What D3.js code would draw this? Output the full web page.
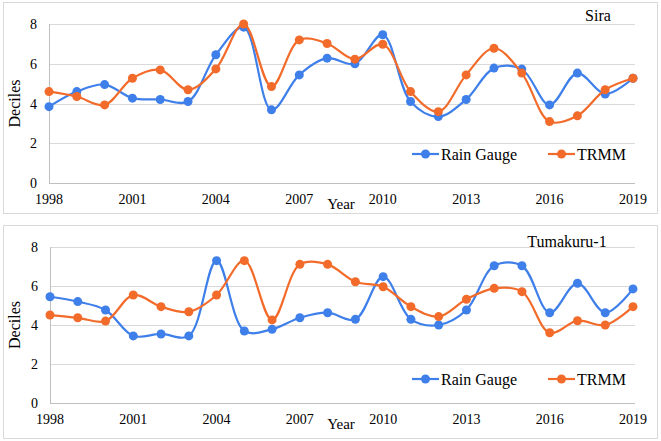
<!DOCTYPE html>
<html><head><meta charset="utf-8">
<script src="https://cdn.jsdelivr.net/npm/d3@7"></script>
<style>body{margin:0;background:#fff;} svg{display:block;}</style>
</head><body>
<svg id="chart" width="661" height="441"></svg>
<script>
const years = d3.range(1998, 2020);
const xTickYears = [1998, 2001, 2004, 2007, 2010, 2013, 2016, 2019];
const yTicks = [0, 2, 4, 6, 8];
const seriesNames = ["Rain Gauge", "TRMM"];
const panelTitles = ["Sira", "Tumakuru-1"];

const siraRain = [3.84,4.6,4.95,4.27,4.2,4.1,6.45,7.84,3.68,5.44,6.28,6.0,7.46,4.1,3.34,4.2,5.78,5.73,3.93,5.53,4.48,5.27];
const siraTrmm = [4.6,4.35,3.93,5.27,5.69,4.69,5.74,8.0,4.85,7.2,7.02,6.23,6.98,4.6,3.59,5.44,6.78,5.53,3.09,3.38,4.69,5.27];
const tumRain = [5.45,5.2,4.77,3.44,3.54,3.44,7.3,3.69,3.78,4.37,4.63,4.29,6.48,4.29,4.0,4.77,7.04,7.04,4.63,6.14,4.63,5.85];
const tumTrmm = [4.51,4.37,4.2,5.54,4.94,4.68,5.54,7.3,4.26,7.11,7.11,6.22,5.96,4.94,4.43,5.32,5.88,5.71,3.6,4.22,4.0,4.94];

const colors = ["#3F7FEA", "#F26B2A"];
const svg = d3.select("#chart");
const font = "'Liberation Serif', 'Times New Roman', serif";

const panels = [
  {box:[3,2,654,211], top:24, bottom:183, left:49, right:633, title:panelTitles[0], tx:598, ty:21, data:[siraRain, siraTrmm], legY:154},
  {box:[3,225,654,213], top:247, bottom:403, left:50, right:633, title:panelTitles[1], tx:567, ty:247, data:[tumRain, tumTrmm], legY:379}
];

panels.forEach(p => {
  const g = svg.append("g");
  g.append("rect").attr("x",p.box[0]+0.5).attr("y",p.box[1]+0.5).attr("width",p.box[2]).attr("height",p.box[3])
    .attr("fill","#fff").attr("stroke","#d9d9d9").attr("stroke-width",1);
  const x = d3.scaleLinear().domain([1998,2019]).range([p.left,p.right]);
  const y = d3.scaleLinear().domain([0,8]).range([p.bottom,p.top]);

  // gridlines
  g.append("g").selectAll("line").data(yTicks.filter(d=>d>0)).join("line")
    .attr("x1",p.left).attr("x2",p.right+2).attr("y1",d=>Math.round(y(d))+0.5).attr("y2",d=>Math.round(y(d))+0.5)
    .attr("stroke","#d9d9d9").attr("stroke-width",1);
  // axes lines
  g.append("line").attr("x1",p.left+0.5).attr("x2",p.left+0.5).attr("y1",p.top).attr("y2",p.bottom).attr("stroke","#bfbfbf");
  g.append("line").attr("x1",p.left).attr("x2",p.right+2).attr("y1",Math.round(p.bottom)+0.5).attr("y2",Math.round(p.bottom)+0.5).attr("stroke","#bfbfbf");

  // y tick labels
  g.append("g").selectAll("text").data(yTicks).join("text")
    .attr("x",p.left-12).attr("y",d=>y(d)+5).attr("text-anchor","end")
    .attr("font-family",font).attr("font-size",14).attr("fill","#000").text(d=>d);
  // x tick labels
  g.append("g").selectAll("text").data(xTickYears).join("text")
    .attr("x",d=>x(d)).attr("y",p.bottom+21).attr("text-anchor","middle")
    .attr("font-family",font).attr("font-size",14).attr("fill","#000").text(d=>d);
  // axis titles
  g.append("text").attr("x",341).attr("y",p.bottom+26).attr("text-anchor","middle")
    .attr("font-family",font).attr("font-size",15).text("Year");
  g.append("text").attr("transform",`translate(20,${(p.top+p.bottom)/2}) rotate(-90)`).attr("text-anchor","middle")
    .attr("font-family",font).attr("font-size",16).text("Deciles");
  // panel title
  g.append("text").attr("x",p.tx).attr("y",p.ty).attr("text-anchor","middle")
    .attr("font-family",font).attr("font-size",16).text(p.title);

  const line = d3.line().x((d,i)=>x(years[i])).y(d=>y(d)).curve(d3.curveCatmullRom.alpha(0.5));
  p.data.forEach((vals,si) => {
    g.append("path").datum(vals).attr("d",line).attr("fill","none")
      .attr("stroke",colors[si]).attr("stroke-width",2.2);
    g.append("g").selectAll("circle").data(vals).join("circle")
      .attr("cx",(d,i)=>x(years[i])).attr("cy",d=>y(d)).attr("r",4.5).attr("fill",colors[si]);
  });

  // legend
  const legX = [412, 548];
  seriesNames.forEach((n,i)=>{
    const lg = g.append("g");
    lg.append("line").attr("x1",legX[i]).attr("x2",legX[i]+27).attr("y1",p.legY).attr("y2",p.legY)
      .attr("stroke",colors[i]).attr("stroke-width",2.2);
    lg.append("circle").attr("cx",legX[i]+13.5).attr("cy",p.legY).attr("r",4.5).attr("fill",colors[i]);
    lg.append("text").attr("x",legX[i]+29).attr("y",p.legY+5.5).attr("font-family",font).attr("font-size",16).text(n);
  });
});
</script>
</body></html>
